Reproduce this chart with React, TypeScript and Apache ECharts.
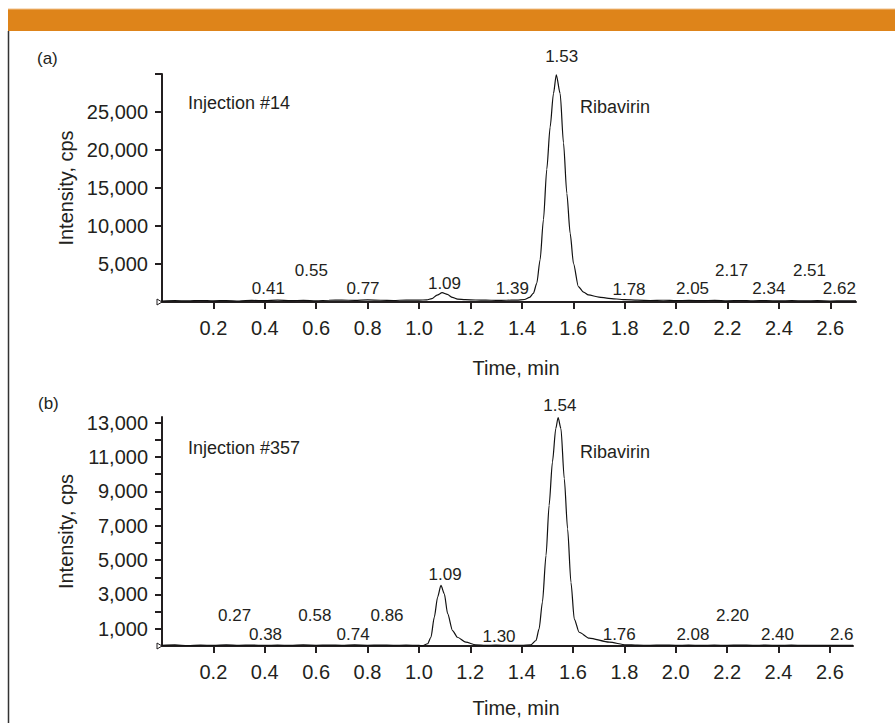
import React, { useEffect, useRef } from "react";
import * as echarts from "echarts";

// Chromatogram (a): injection #14  [time (min), intensity (cps)]
const traceA: [number, number][] = [
  [0.0, 120], [0.05, 180], [0.1, 140], [0.15, 200], [0.2, 150], [0.25, 190], [0.3, 130],
  [0.35, 210], [0.4, 170], [0.45, 240], [0.5, 180], [0.55, 220], [0.6, 160], [0.65, 230],
  [0.7, 250], [0.75, 210], [0.8, 270], [0.85, 230], [0.9, 200], [0.95, 260], [1.0, 240],
  [1.03, 280], [1.05, 450], [1.07, 900], [1.09, 1230], [1.11, 1000], [1.13, 600], [1.15, 380],
  [1.18, 300], [1.22, 260], [1.26, 240], [1.3, 220], [1.34, 230], [1.38, 250], [1.41, 330],
  [1.43, 600], [1.445, 1150], [1.458, 2470], [1.471, 5560], [1.484, 10850], [1.497, 17470],
  [1.51, 23020], [1.523, 27430], [1.534, 29900], [1.549, 27430], [1.562, 20930], [1.575, 14310],
  [1.588, 9020], [1.601, 5050], [1.62, 2030], [1.64, 1300], [1.659, 926], [1.7, 650],
  [1.737, 490], [1.8, 300], [1.85, 240], [1.9, 200], [1.95, 230], [2.0, 180], [2.05, 210],
  [2.1, 170], [2.15, 220], [2.2, 160], [2.25, 200], [2.3, 150], [2.35, 190], [2.4, 140],
  [2.45, 180], [2.5, 150], [2.55, 170], [2.6, 130], [2.65, 160], [2.7, 140],
];

// Chromatogram (b): injection #357
const traceB: [number, number][] = [
  [0.0, 40], [0.05, 60], [0.1, 30], [0.15, 50], [0.2, 40], [0.25, 70], [0.3, 40], [0.35, 55],
  [0.4, 35], [0.45, 50], [0.5, 40], [0.55, 60], [0.6, 45], [0.65, 55], [0.7, 40], [0.75, 60],
  [0.8, 45], [0.85, 55], [0.9, 40], [0.95, 50], [1.0, 40], [1.014, 20], [1.034, 130],
  [1.047, 510], [1.06, 1680], [1.073, 2850], [1.086, 3530], [1.099, 3040], [1.112, 1880],
  [1.131, 900], [1.15, 510], [1.183, 220], [1.221, 70], [1.26, 40], [1.3, 50], [1.35, 40],
  [1.4, 45], [1.436, 70], [1.456, 320], [1.468, 1000], [1.481, 2560], [1.495, 5280],
  [1.507, 8190], [1.52, 10720], [1.533, 12660], [1.542, 13300], [1.553, 12660], [1.566, 9740],
  [1.579, 6820], [1.592, 3710], [1.605, 1570], [1.624, 800], [1.663, 455], [1.741, 220],
  [1.806, 70], [1.85, 50], [1.9, 40], [1.95, 55], [2.0, 40], [2.05, 50], [2.1, 35], [2.15, 50],
  [2.2, 40], [2.25, 55], [2.3, 40], [2.35, 50], [2.4, 35], [2.45, 50], [2.5, 40], [2.55, 45],
  [2.6, 35], [2.65, 45], [2.69, 40],
];

// Peak annotations: [time anchor, intensity anchor, text]
const peakLabelsA: [number, number, string][] = [
  [0.414, 1720, "0.41"], [0.581, 4140, "0.55"], [0.782, 1720, "0.77"], [1.099, 2380, "1.09"],
  [1.363, 1720, "1.39"], [1.555, 32280, "1.53"], [1.817, 1700, "1.78"], [2.064, 1720, "2.05"],
  [2.216, 4140, "2.17"], [2.361, 1720, "2.34"], [2.519, 4140, "2.51"], [2.635, 1720, "2.62"],
];
const peakLabelsB: [number, number, string][] = [
  [0.2825, 1778, "0.27"], [0.403, 670, "0.38"], [0.595, 1778, "0.58"], [0.744, 670, "0.74"],
  [0.876, 1778, "0.86"], [1.102, 4170, "1.09"], [1.312, 554, "1.30"], [1.549, 14020, "1.54"],
  [1.78, 670, "1.76"], [2.067, 670, "2.08"], [2.221, 1778, "2.20"], [2.396, 670, "2.40"],
  [2.646, 670, "2.6"],
];

const xTicks = [0.2, 0.4, 0.6, 0.8, 1.0, 1.2, 1.4, 1.6, 1.8, 2.0, 2.2, 2.4, 2.6];
const yLabelsA = [5000, 10000, 15000, 20000, 25000];
const yTicksA = [5000, 10000, 15000, 20000, 25000, 30000];
const yLabelsB = [1000, 3000, 5000, 7000, 9000, 11000, 13000];
const yTicksB = [1000, 2000, 3000, 4000, 5000, 6000, 7000, 8000, 9000, 10000, 11000, 12000, 13000];

const FONT = "'Liberation Sans', Arial, Helvetica, sans-serif";
const INK = "#231f20";

function xAxisOpt(gridIndex: number, max: number, padLeft: number, gap: number) {
  return {
    type: "value",
    gridIndex,
    min: 0,
    max,
    name: "Time, min",
    nameLocation: "middle",
    nameGap: gap,
    nameTextStyle: { fontFamily: FONT, fontSize: 20, color: INK, padding: [0, 0, 0, padLeft] },
    axisLine: { show: true, onZero: false, lineStyle: { color: INK, width: 2 } },
    axisTick: { show: true, length: 7, customValues: xTicks, lineStyle: { color: INK, width: 2 } },
    axisLabel: {
      customValues: xTicks,
      margin: 16,
      fontFamily: FONT,
      fontSize: 20,
      color: INK,
      formatter: (v: number) => v.toFixed(1),
    },
    splitLine: { show: false },
  };
}

function yAxisOpt(gridIndex: number, max: number, labels: number[], ticks: number[]) {
  return {
    type: "value",
    gridIndex,
    min: 0,
    max,
    name: "Intensity, cps",
    nameLocation: "middle",
    nameGap: 86,
    nameTextStyle: { fontFamily: FONT, fontSize: 20, color: INK },
    axisLine: { show: true, lineStyle: { color: INK, width: 2 } },
    axisTick: { show: true, length: 7, customValues: ticks, lineStyle: { color: INK, width: 2 } },
    axisLabel: {
      customValues: labels,
      margin: 14,
      fontFamily: FONT,
      fontSize: 20,
      color: INK,
      formatter: (v: number) => v.toLocaleString("en-US"),
    },
    splitLine: { show: false },
  };
}

function labelSeries(idx: number, data: [number, number, string][]) {
  return {
    type: "scatter",
    xAxisIndex: idx,
    yAxisIndex: idx,
    symbolSize: 0,
    clip: false,
    silent: true,
    itemStyle: { opacity: 1 },
    data: data.map((d) => ({ value: [d[0], d[1]], name: d[2] })),
    label: {
      show: true,
      position: "inside",
      formatter: (p: any) => p.name,
      fontFamily: FONT,
      fontSize: 17,
      color: INK,
      opacity: 1,
    },
  };
}

function traceSeries(idx: number, data: [number, number][]) {
  return {
    type: "line",
    xAxisIndex: idx,
    yAxisIndex: idx,
    data,
    showSymbol: false,
    smooth: 0.25,
    smoothMonotone: "x",
    lineStyle: { color: "#111", width: 1.2 },
  };
}

const txt = (x: number, y: number, text: string, size: number) => ({
  type: "text",
  x,
  y,
  style: { text, fontFamily: FONT, fontSize: size, fill: INK, textVerticalAlign: "middle" },
});

export default function App() {
  const ref = useRef<HTMLDivElement>(null);
  useEffect(() => {
    if (!ref.current) return;
    const chart = echarts.init(ref.current, null, { renderer: "svg" });
    chart.setOption({
      animation: false,
      backgroundColor: "#ffffff",
      grid: [
        { left: 162, top: 74, width: 694, height: 228 },
        { left: 162, top: 417, width: 691, height: 229 },
      ],
      xAxis: [xAxisOpt(0, 2.7, 14, 56), xAxisOpt(1, 2.69, 17, 52)],
      yAxis: [yAxisOpt(0, 30000, yLabelsA, yTicksA), yAxisOpt(1, 13330, yLabelsB, yTicksB)],
      series: [
        traceSeries(0, traceA),
        traceSeries(1, traceB),
        labelSeries(0, peakLabelsA),
        labelSeries(1, peakLabelsB),
      ],
      graphic: [
        { type: "rect", shape: { x: 8, y: 9, width: 887, height: 22 }, style: { fill: "#de841a" } },
        { type: "line", shape: { x1: 8, y1: 9, x2: 895, y2: 9 }, style: { stroke: "#f0c08a", lineWidth: 1 } },
        { type: "line", shape: { x1: 8.5, y1: 31, x2: 8.5, y2: 723 }, style: { stroke: "#333", lineWidth: 1.5 } },
        txt(37, 58, "(a)", 17),
        txt(38, 403, "(b)", 17),
        txt(188, 103, "Injection #14", 18),
        txt(188, 448, "Injection #357", 18),
        txt(580, 107, "Ribavirin", 18),
        txt(580, 452, "Ribavirin", 18),
        { type: "polygon", shape: { points: [[157, 299], [157, 305], [162, 302]] }, style: { fill: "none", stroke: INK, lineWidth: 1 } },
        { type: "polygon", shape: { points: [[157, 643], [157, 649], [162, 646]] }, style: { fill: "none", stroke: INK, lineWidth: 1 } },
      ],
    });
    return () => chart.dispose();
  }, []);
  return (
    <div
      ref={ref}
      style={{ position: "fixed", left: 0, top: 0, width: 895, height: 723 }}
    />
  );
}
